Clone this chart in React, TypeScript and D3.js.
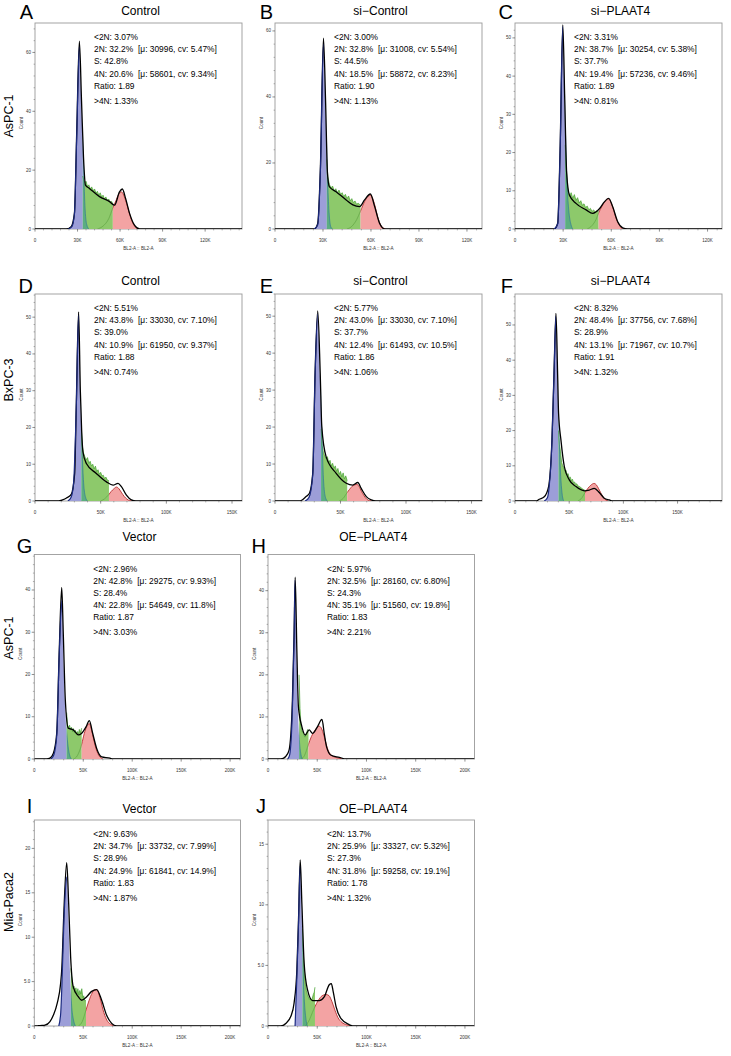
import React from "react";
import * as d3 from "d3";

type Pt = [number, number];

// ---------- text data ----------
const panelLetters = ["A", "B", "C", "D", "E", "F", "G", "H", "I", "J"];
const panelTitles = ["Control", "si−Control", "si−PLAAT4", "Control", "si−Control", "si−PLAAT4", "Vector", "OE−PLAAT4", "Vector", "OE−PLAAT4"];
const rowLabels = ["AsPC-1", "BxPC-3", "AsPC-1", "Mia-Paca2"];

const below2N = ["3.07%", "3.00%", "3.31%", "5.51%", "5.77%", "8.32%", "2.96%", "5.97%", "9.63%", "13.7%"];
const pct2N = ["32.2%", "32.8%", "38.7%", "43.8%", "43.0%", "48.4%", "42.8%", "32.5%", "34.7%", "25.9%"];
const mu2N = ["30996", "31008", "30254", "33030", "33030", "37756", "29275", "28160", "33732", "33327"];
const cv2N = ["5.47%", "5.54%", "5.38%", "7.10%", "7.10%", "7.68%", "9.93%", "6.80%", "7.99%", "5.32%"];
const pctS = ["42.8%", "44.5%", "37.7%", "39.0%", "37.7%", "28.9%", "28.4%", "24.3%", "28.9%", "27.3%"];
const pct4N = ["20.6%", "18.5%", "19.4%", "10.9%", "12.4%", "13.1%", "22.8%", "35.1%", "24.9%", "31.8%"];
const mu4N = ["58601", "58872", "57236", "61950", "61493", "71967", "54649", "51560", "61841", "59258"];
const cv4N = ["9.34%", "8.23%", "9.46%", "9.37%", "10.5%", "10.7%", "11.8%", "19.8%", "14.9%", "19.1%"];
const ratios = ["1.89", "1.90", "1.89", "1.88", "1.86", "1.91", "1.87", "1.83", "1.83", "1.78"];
const above4N = ["1.33%", "1.13%", "0.81%", "0.74%", "1.06%", "1.32%", "3.03%", "2.21%", "1.87%", "1.32%"];

// ---------- axes data (x in K units) ----------
const xMaxK = [146, 129.4, 129, 157.6, 158, 191, 210.6, 209.7, 210.6, 209.7];
const yMax = [70, 62.4, 53.9, 56.3, 56, 58.8, 48.4, 48.6, 23.2, 17];
const xTicksK = [
  [0, 30, 60, 90, 120], [0, 30, 60, 90, 120], [0, 30, 60, 90, 120],
  [0, 50, 100, 150], [0, 50, 100, 150], [0, 50, 100, 150],
  [0, 50, 100, 150, 200], [0, 50, 100, 150, 200], [0, 50, 100, 150, 200], [0, 50, 100, 150, 200],
];
const yTicks = [
  [0, 20, 40, 60], [0, 20, 40, 60], [0, 10, 20, 30, 40, 50],
  [0, 10, 20, 30, 40, 50], [0, 10, 20, 30, 40, 50], [0, 10, 20, 30, 40, 50],
  [0, 10, 20, 30, 40], [0, 10, 20, 30, 40], [0, 5, 10, 15, 20], [0, 5, 10, 15],
];
const yTickLabels = [
  ["0", "20", "40", "60"], ["0", "20", "40", "60"], ["0", "10", "20", "30", "40", "50"],
  ["0", "10", "20", "30", "40", "50"], ["0", "10", "20", "30", "40", "50"], ["0", "10", "20", "30", "40", "50"],
  ["0", "10", "20", "30", "40"], ["0", "10", "20", "30", "40"], ["0", "5.0", "10", "15", "20"], ["0", "5.0", "10", "15"],
];

// ---------- histogram data: [x (K), count] ----------
const outlineA: Pt[] = [[0,0],[21.9,0],[25.5,0.8],[27.8,5.3],[29.4,32.4],[31.3,63.8],[32.8,43.7],[34.2,24.5],[35.6,14.9],[38.4,13.8],[45.5,11],[52.6,9.3],[56.1,8.1],[59.6,12.6],[61.6,13.6],[63.9,10.4],[66.7,5.3],[70.3,1.2],[73.8,0],[146,0]];
const blueA: Pt[] = [[23.5,0],[26,0.8],[27.8,5],[29.4,31],[31.3,62],[32.8,42],[34.2,22],[35.2,8],[36.5,1.5],[38,0]];
const greenA: Pt[] = [[33.7,18],[34.5,16.5],[35.2,15.8],[36,16.2],[37,14.5],[38,15],[39,13.5],[40,14.3],[41,13],[42,13.6],[43,12.2],[44,12.8],[45,11.5],[46,12.3],[47,10.9],[48,11.5],[49,10.2],[50,10.9],[51,9.7],[52,10.2],[53,9],[54,9.4],[54.9,8.6]];
const redA: Pt[] = [[44,0],[48,1],[52,3.5],[54.9,7.2],[57,9.5],[59,11.8],[61,12.6],[63,11],[65,8],[67,4.6],[69,2],[71,0.6],[73,0]];

const outlineB: Pt[] = [[0,0],[24.7,0],[26.7,1.7],[28.4,18.9],[30.3,57.8],[31.6,39],[32.8,16.9],[34,12.8],[38.2,11.3],[44.5,8.8],[48.7,7.3],[52.9,6.8],[56,8.8],[59.6,10.6],[62.3,6.8],[65.4,1.7],[68.6,0],[129.4,0]];
const blueB: Pt[] = [[24.5,0],[26.7,1.2],[28.4,18],[30.3,56],[31.6,38],[32.8,16],[33.8,5],[35,0.5],[36,0]];
const greenB: Pt[] = [[32.4,21],[33,16],[34,13.5],[35,12.5],[36,13],[37,11.5],[38,12.2],[39,11],[40,11.8],[41,10.5],[42,11],[43,9.8],[44,10.5],[45,9.2],[46,10],[47,8.5],[48,9.2],[49,8],[50,8.5],[51,7.5],[52,7.8],[53.5,7.2]];
const redB: Pt[] = [[45,0],[48,0.8],[51,2.8],[53.5,5.5],[56,8.3],[58,9.8],[59.6,10.3],[61,9.3],[62.5,7],[64,4],[65.5,1.8],[67,0.6],[69,0]];

const outlineC: Pt[] = [[0,0],[24.5,0],[26.6,1.5],[28.1,20.7],[29.8,53.4],[31,33.8],[32.2,14.6],[33.9,8.9],[38,6.7],[44.3,5],[48.4,4.1],[52.6,5.3],[55.7,7.1],[58.4,8],[60.9,5.8],[64,1.9],[67.1,0.3],[70,0],[129,0]];
const blueC: Pt[] = [[24.5,0],[26.6,1.3],[28.1,20],[29.8,53],[31,33],[32.2,14],[33.5,5],[35,1],[36,0]];
const greenC: Pt[] = [[31.3,22],[32,16],[33,10],[34,8.5],[35,9.5],[36,8],[37,9],[38,7.5],[39,8.2],[40,6.8],[41,7.4],[42,6.2],[43,6.6],[44,5.6],[45,6],[46,5],[47,5.4],[48,4.6],[49,5],[50,4.4],[51,4.8],[52.1,4.6]];
const redC: Pt[] = [[45,0],[48,0.9],[50.5,2.5],[52.1,4.2],[54,5.8],[56,7.2],[58,8],[59.5,7.2],[61,5.6],[62.5,3.5],[64,1.8],[65.5,0.7],[67,0]];

const outlineD: Pt[] = [[0,0],[18,0],[21,0.3],[24,0.8],[27.6,1.8],[30.2,7.5],[31.4,25.6],[33.2,51.4],[34.5,30.2],[35.5,19.3],[36.5,13.4],[39.1,10.2],[46.7,7.5],[54.4,5.2],[59.4,4.3],[63.2,4.8],[65.8,3.9],[69.6,1.6],[73.4,0.3],[76.9,0],[157.6,0]];
const blueD: Pt[] = [[25,0],[27.5,1],[29.4,5],[31.4,25],[33.2,50.5],[34.5,29],[35.8,14],[37,5],[38.5,1],[40,0]];
const greenD: Pt[] = [[35.3,19.5],[36,15],[37,13],[38,12],[39,11.2],[40,11.8],[41,10.2],[42,10.8],[43,9.5],[44,10],[45,8.7],[46,9.5],[47,8],[48,8.5],[49,7.3],[50,7.8],[51,6.8],[52,7],[53,6.1],[54,6.5],[55,5.7],[56.3,5.5]];
const redD: Pt[] = [[50,0],[53,0.6],[56.3,1.8],[58,2.6],[60,3.3],[62,3.8],[64,3.3],[66,2.2],[68,1.2],[70,0.5],[72,0.1],[74,0]];

const outlineE: Pt[] = [[0,0],[18.6,0],[23.7,1.2],[26.3,2.1],[28.8,7.5],[30.6,34.7],[32.6,51.4],[34.5,34.7],[35.7,20.2],[39,12],[46.7,7.5],[54.4,4.8],[59.4,4.3],[63.2,5],[65.8,3.4],[69.7,1.2],[73.5,0.3],[77,0],[158,0]];
const blueE: Pt[] = [[23,0],[26,1],[28.8,7],[30.6,34],[32.6,50.5],[34.5,33],[35.8,18],[37,6],[38.5,1],[40,0]];
const greenE: Pt[] = [[35.2,19.5],[36,15],[37,13],[38,12.2],[39,11.5],[40,12],[41,10.3],[42,11],[43,9.5],[44,10.2],[45,8.8],[46,9.5],[47,8],[48,8.8],[49,7.2],[50,8],[51,6.5],[52,7.6],[53,6],[54,6.8],[55.1,5.5]];
const redE: Pt[] = [[49,0],[52,0.7],[55.1,2.3],[57,3.2],[59,4],[61,4.4],[62.5,4.5],[64,4],[66,2.6],[68,1.4],[70,0.5],[72,0.1],[74,0]];

const outlineF: Pt[] = [[0,0],[19.4,0],[22.4,0.5],[27,1.2],[31,4.1],[34.1,17.3],[36,36.3],[37.8,53.3],[39.3,36.3],[40.2,24.9],[42.4,17.3],[45.5,9.8],[50.1,6],[56.3,4.1],[64,2.9],[68.5,3.1],[73.2,3.6],[77.8,2.4],[82.4,0.8],[87,0.3],[90,0],[191,0]];
const blueF: Pt[] = [[27,0],[30,1],[31.5,4],[34.1,17],[36,36],[37.8,52.5],[39.3,35],[40.5,20],[42,8],[43.5,2],[45,0]];
const greenF: Pt[] = [[40.2,20],[41,16],[42,14],[43,11],[44,10],[45,9.5],[46,8.5],[47,8.8],[48,7.5],[49,7.8],[50,6.5],[51,6.8],[52,5.8],[53,6.2],[54,5.2],[55,5.4],[56,4.7],[57,4.9],[58,4.3],[60,4],[62,3.5],[64.6,3]];
const redF: Pt[] = [[58,0],[62,1],[64.6,2.4],[67,3.5],[70,4.5],[73,5],[75,4.6],[77,3.6],[79,2.4],[81,1.3],[83,0.5],[85,0.1],[86,0]];

const outlineG: Pt[] = [[0,0],[12.7,0],[16,0.2],[19.4,1.3],[22.9,6.1],[25.5,25.8],[28,40.6],[29.6,29.7],[31.7,13.9],[34.7,7.3],[39.8,6.9],[44.9,5.7],[48.4,6.1],[52.8,7.6],[56.2,9.1],[59.6,6.1],[63.7,2.5],[68.8,0.5],[77.3,0.2],[80,0],[210.6,0]];
const blueG: Pt[] = [[17,0],[20,1],[22.9,5.5],[25.5,25],[28.2,37.5],[30,22],[32,10],[34,4],[36,1],[38,0]];
const greenG: Pt[] = [[33,11],[34,8],[35,7.5],[36,8],[37,7],[38,7.5],[39,6.5],[40,7.2],[41,6.3],[42,6.8],[43,6],[44,6.5],[45,5.8],[46,7],[47,6.2],[48.4,7.3]];
const redG: Pt[] = [[40,0],[44,0.8],[48.4,3.5],[51,6],[54,7.9],[56.2,8.4],[58,7.3],[60,5.3],[62,3.3],[64,1.8],[66,0.8],[68,0.3],[70,0]];

const outlineH: Pt[] = [[0,0],[13,0],[18,0.6],[21.4,2.1],[24.8,14],[26.5,29.8],[27.6,43.2],[29.3,25.8],[30.9,12.4],[34.4,7.7],[37.8,5.7],[41.8,6.9],[45.2,6.1],[50.3,7.7],[54.8,9.4],[57.1,6.1],[59.5,2.9],[64,0.9],[72.4,0.4],[79.3,0],[209.7,0]];
const blueH: Pt[] = [[20,0],[22,1],[24.8,12],[26.5,29],[27.6,42.5],[29,26],[30.5,11],[32,4],[33.5,1],[35,0]];
const greenH: Pt[] = [[31.6,20],[32.5,12],[33.5,8],[34.5,6.5],[35.5,6.5],[36.5,5.8],[37.5,5.2],[38.5,6],[39.5,6.5],[40.3,7],[41.1,6.8]];
const redH: Pt[] = [[34,0],[37,0.8],[41.1,3.5],[44,5.3],[47,6.6],[50,7.5],[52,7.8],[54,7.4],[56,6.2],[58,4.5],[60,2.8],[62,1.6],[65,0.8],[70,0.3],[76,0]];

const outlineI: Pt[] = [[0,0],[2.4,0],[5.8,0.05],[10.9,0.1],[16,0.5],[19.4,1.2],[23.5,2.6],[26.9,4.8],[28,6.3],[30.3,13.1],[33.1,18.4],[35.1,13.8],[37.1,7.8],[39.8,4.4],[44.9,3.3],[48.4,2.9],[53.5,3.3],[58.6,3.9],[63.7,4.1],[68.8,2.9],[73.9,1.2],[79,0.3],[84,0],[210.6,0]];
const blueI: Pt[] = [[25,0],[27,1.5],[28,4],[30.3,12],[33.2,16.8],[35,11.5],[36.5,6],[38,2.5],[40,0.7],[42,0]];
const greenI: Pt[] = [[37.4,6.5],[38.5,5],[39.5,4.2],[40.5,4.5],[41.5,3.8],[42.5,4.3],[43.5,3.6],[44.5,4.2],[45.5,3.5],[46.5,4],[47.5,3.6],[48.5,4.2],[49.5,3.2],[50.5,3.4],[51.5,2.8],[52.8,2.9]];
const redI: Pt[] = [[45,0],[49,0.5],[52.8,1.8],[56,2.9],[59,3.7],[62,4.1],[64,4.1],[66,3.6],[68,2.8],[70,1.9],[72,1.2],[75,0.5],[78,0.2],[81,0]];

const outlineJ: Pt[] = [[0,0],[13,0],[18,0.2],[23.2,0.8],[26.5,1.9],[29.3,4.6],[31,8.8],[32.7,13.7],[34.4,10.1],[36.7,5.2],[40.1,3],[45.2,2.1],[52,2.1],[57.1,2.4],[62.2,3.4],[64.3,3.5],[66.3,2.8],[69.1,1.6],[74.2,0.6],[82.7,0.1],[86,0],[209.7,0]];
const blueJ: Pt[] = [[27.5,0],[29.3,4],[31,8.5],[32.7,13.2],[34,10],[35.5,5],[37,2],[38.5,0.6],[40,0]];
const greenJ: Pt[] = [[35,8],[36,5.8],[37,4.3],[38,3.4],[39,2.9],[40,2.6],[41,2.4],[42,2.2],[43,2.3],[44,2.1],[45,2.3],[46,2.6],[47,2.8],[47.7,3.2]];
const redJ: Pt[] = [[38,0],[42,0.5],[45,1.1],[47.7,1.6],[51,2.1],[55,2.5],[59,2.6],[62,2.5],[65,2],[68,1.3],[71,0.7],[75,0.3],[80,0.1],[85,0]];

const outlines = [outlineA, outlineB, outlineC, outlineD, outlineE, outlineF, outlineG, outlineH, outlineI, outlineJ];
const blues = [blueA, blueB, blueC, blueD, blueE, blueF, blueG, blueH, blueI, blueJ];
const greens = [greenA, greenB, greenC, greenD, greenE, greenF, greenG, greenH, greenI, greenJ];
const reds = [redA, redB, redC, redD, redE, redF, redG, redH, redI, redJ];

// ---------- layout ----------
const W = 731, H = 1056;
const FONT = "'Liberation Sans', Arial, Helvetica, sans-serif";
const colsWide: [number, number][] = [[35, 242], [275, 482], [515, 722]];
const colsNarrow: [number, number][] = [[34.3, 240.5], [268, 474.5]];
const rowsY: [number, number][] = [[23, 229], [294, 501], [554.5, 759], [820, 1026]];
const letterBase = [19, 293, 553, 813];
const titleBase = [15, 285, 541, 813];
const rowLabelCy = [116, 380, 638, 902];

function panelFrame(i: number) {
  let row: number, col: number;
  if (i < 3) { row = 0; col = i; }
  else if (i < 6) { row = 1; col = i - 3; }
  else if (i < 8) { row = 2; col = i - 6; }
  else { row = 3; col = i - 8; }
  const cx = row < 2 ? colsWide[col] : colsNarrow[col];
  return { row, x0: cx[0], x1: cx[1], y0: rowsY[row][0], y1: rowsY[row][1] };
}

function Panel({ i }: { i: number }) {
  const f = panelFrame(i);
  const x = d3.scaleLinear().domain([0, xMaxK[i]]).range([f.x0, f.x1]);
  const y = d3.scaleLinear().domain([0, yMax[i]]).range([f.y1, f.y0]);
  const line = d3.line<Pt>().x(d => x(d[0])).y(d => y(d[1])).curve(d3.curveMonotoneX);
  const area = d3.area<Pt>().x(d => x(d[0])).y0(y(0)).y1(d => y(d[1])).curve(d3.curveMonotoneX);
  const gArea = d3.area<Pt>().x(d => x(d[0])).y0(y(0)).y1(d => y(d[1])).curve(d3.curveLinear);
  const gLine = d3.line<Pt>().x(d => x(d[0])).y(d => y(d[1])).curve(d3.curveLinear);

  const green = greens[i];
  const cut1 = x(green[0][0]);
  const cut2 = x(green[green.length - 1][0]);
  const blue = blues[i];
  const peak = blue.reduce((a, b) => (b[1] > a[1] ? b : a));
  const peakX = x(peak[0]);
  const id = `p${i}`;
  const fw = f.x1 - f.x0, fh = f.y1 - f.y0;

  // ticks
  const yt = yTicks[i];
  const yStep = yt[1] - yt[0];
  const yMinor: number[] = [];
  for (let v = 0; v <= yMax[i] + 1e-9; v += yStep / 5) {
    if (Math.abs(v / yStep - Math.round(v / yStep)) > 1e-6) yMinor.push(v);
  }
  const xt = xTicksK[i];
  const xStep = xt[1] - xt[0];
  const xMinor: number[] = [];
  for (let v = 0; v <= xMaxK[i] + 1e-9; v += xStep / 5) {
    if (Math.abs(v / xStep - Math.round(v / xStep)) > 1e-6) xMinor.push(v);
  }

  const tx = f.x0 + 59;
  const bx = tx + 44;
  const lines = [f.y0 + 17, f.y0 + 29.2, f.y0 + 41.4, f.y0 + 53.6, f.y0 + 65.8, f.y0 + 80.5];
  const fs = 8.4;
  const cx = (f.x0 + f.x1) / 2;
  const cy = (f.y0 + f.y1) / 2;

  return (
    <g>
      <defs>
        <clipPath id={`${id}-fr`}><rect x={f.x0} y={f.y0 - 2} width={fw} height={fh + 2} /></clipPath>
        <clipPath id={`${id}-bl`}><rect x={f.x0} y={f.y0} width={cut1 - f.x0} height={fh} /></clipPath>
        <clipPath id={`${id}-br`}><rect x={cut1} y={f.y0} width={f.x1 - cut1} height={fh} /></clipPath>
        <clipPath id={`${id}-rl`}><rect x={f.x0} y={f.y0} width={cut2 - f.x0} height={fh} /></clipPath>
        <clipPath id={`${id}-rr`}><rect x={cut2} y={f.y0} width={f.x1 - cut2} height={fh} /></clipPath>
        <clipPath id={`${id}-pk`}><rect x={f.x0} y={f.y0} width={peakX - f.x0} height={fh + 2} /></clipPath>
      </defs>
      <rect x={f.x0} y={f.y0} width={fw} height={fh} fill="#fff" stroke="#9a9a9a" strokeWidth={0.9} />
      <g clipPath={`url(#${id}-fr)`}>
        <path d={area(blue) || ""} fill="#9c9ed8" clipPath={`url(#${id}-bl)`} />
        <path d={gArea(green) || ""} fill="#8dc96b" />
        <path d={area(blue) || ""} fill="#1f8f9c" fillOpacity={0.45} clipPath={`url(#${id}-br)`} />
        <path d={area(reds[i]) || ""} fill="#f3a3a3" clipPath={`url(#${id}-rr)`} />
        <path d={gLine(green) || ""} fill="none" stroke="#45a030" strokeWidth={0.7} />
        <path d={line(reds[i]) || ""} fill="none" stroke="#5a9e3e" strokeWidth={0.6} clipPath={`url(#${id}-rl)`} />
        <path d={line(reds[i]) || ""} fill="none" stroke="#b83030" strokeWidth={0.9} clipPath={`url(#${id}-rr)`} />
        <path d={line(blue) || ""} fill="none" stroke="#2a6fa0" strokeWidth={0.6} clipPath={`url(#${id}-br)`} />
        <path d={line(outlines[i]) || ""} fill="none" stroke="#000" strokeWidth={1.3} />
        <path d={line(blue) || ""} fill="none" stroke="#1b2a80" strokeWidth={1.2} clipPath={`url(#${id}-pk)`} />
      </g>
      {/* y axis ticks */}
      {yt.map((v, k) => (
        <g key={`yt${k}`}>
          <line x1={f.x0 - 2.6} x2={f.x0} y1={y(v)} y2={y(v)} stroke="#444" strokeWidth={0.6} />
          <text x={f.x0 - 4} y={y(v) + 1.5} fontSize={4.5} textAnchor="end" fill="#333" fontFamily={FONT}>{yTickLabels[i][k]}</text>
        </g>
      ))}
      {yMinor.map((v, k) => (
        <line key={`ym${k}`} x1={f.x0 - 1.4} x2={f.x0} y1={y(v)} y2={y(v)} stroke="#666" strokeWidth={0.5} />
      ))}
      {/* x axis ticks */}
      {xt.map((v, k) => (
        <g key={`xt${k}`}>
          <line x1={x(v)} x2={x(v)} y1={f.y1} y2={f.y1 + 2.6} stroke="#444" strokeWidth={0.6} />
          <text x={x(v)} y={f.y1 + 13} fontSize={4.5} textAnchor="middle" fill="#333" fontFamily={FONT}>{v === 0 ? "0" : `${v}K`}</text>
        </g>
      ))}
      {xMinor.map((v, k) => (
        <line key={`xm${k}`} x1={x(v)} x2={x(v)} y1={f.y1} y2={f.y1 + 1.4} stroke="#666" strokeWidth={0.5} />
      ))}
      <text x={cx} y={f.y1 + 20.5} fontSize={4.6} textAnchor="middle" fill="#333" fontFamily={FONT}>BL2-A :: BL2-A</text>
      <text transform={`translate(${f.x0 - 12.5},${cy - 3}) rotate(-90)`} fontSize={4.6} textAnchor="middle" fill="#333" fontFamily={FONT}>Count</text>
      {/* titles */}
      <text x={cx + 2} y={titleBase[f.row]} fontSize={12} textAnchor="middle" fill="#000" fontFamily={FONT}>{panelTitles[i]}</text>
      <text x={f.x0 - 2} y={letterBase[f.row]} fontSize={20} textAnchor="end" fill="#000" fontFamily={FONT}>{panelLetters[i]}</text>
      {/* stats */}
      <g fontFamily={FONT} fontSize={fs} fill="#000">
        <text x={tx} y={lines[0]}>{`<2N: ${below2N[i]}`}</text>
        <text x={tx} y={lines[1]}>{`2N: ${pct2N[i]}`}</text>
        <text x={bx} y={lines[1]}>{`[μ: ${mu2N[i]}, cv: ${cv2N[i]}]`}</text>
        <text x={tx} y={lines[2]}>{`S: ${pctS[i]}`}</text>
        <text x={tx} y={lines[3]}>{`4N: ${pct4N[i]}`}</text>
        <text x={bx} y={lines[3]}>{`[μ: ${mu4N[i]}, cv: ${cv4N[i]}]`}</text>
        <text x={tx} y={lines[4]}>{`Ratio: ${ratios[i]}`}</text>
        <text x={tx} y={lines[5]}>{`>4N: ${above4N[i]}`}</text>
      </g>
    </g>
  );
}

export default function App() {
  return (
    <svg width={W} height={H} viewBox={`0 0 ${W} ${H}`} style={{ position: "absolute", left: 0, top: 0, background: "#fff" }}>
      <rect x={0} y={0} width={W} height={H} fill="#fff" />
      {rowLabels.map((t, r) => (
        <text key={r} transform={`translate(13,${rowLabelCy[r]}) rotate(-90)`} fontSize={12.5} textAnchor="middle" fontFamily={FONT} fill="#000">{t}</text>
      ))}
      {panelLetters.map((_, i) => <Panel key={i} i={i} />)}
    </svg>
  );
}
